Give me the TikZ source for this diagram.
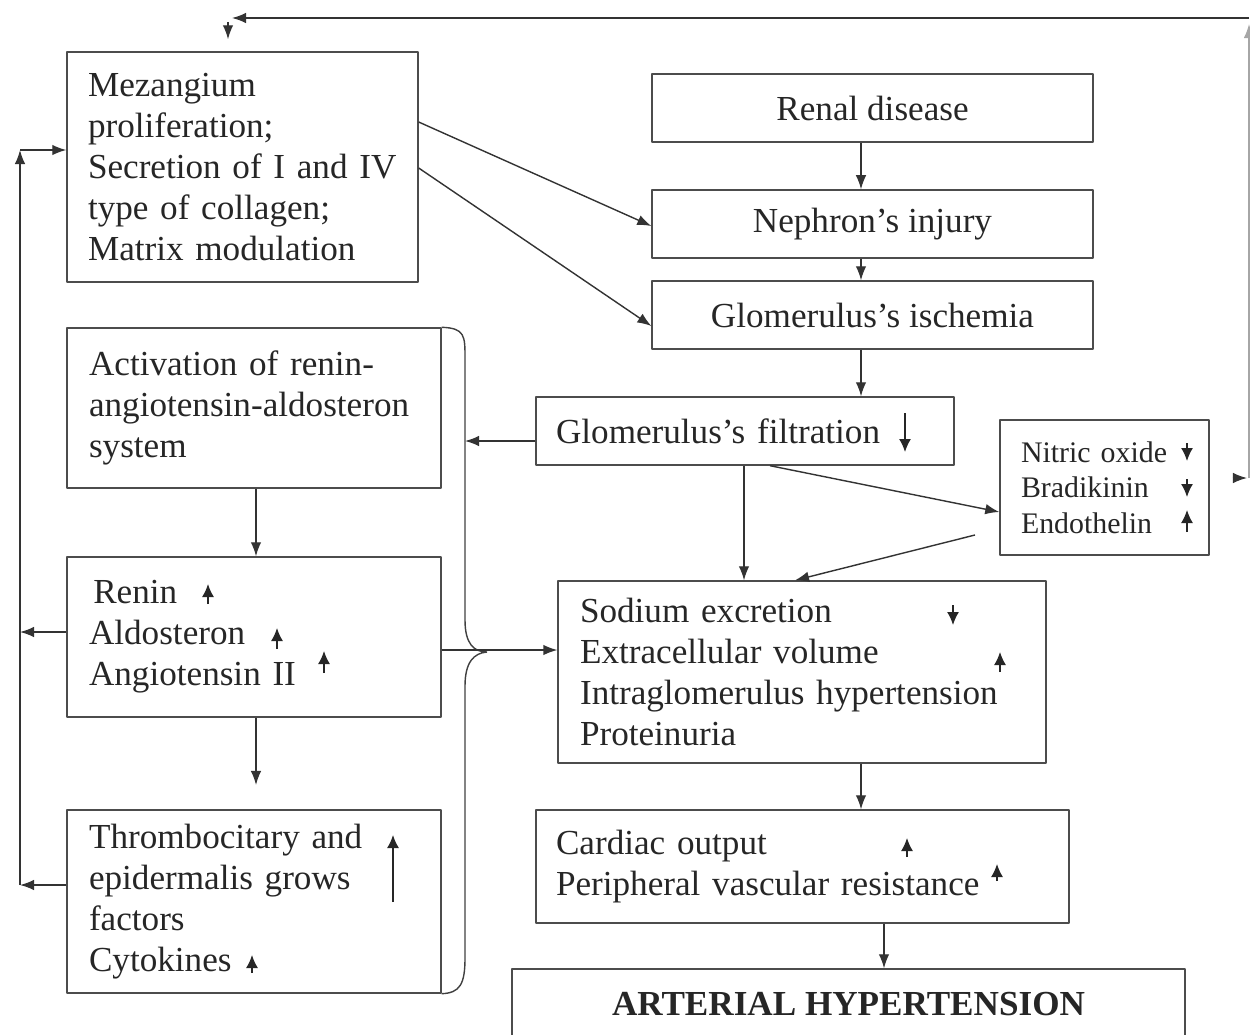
\documentclass[tikz,border=0pt]{standalone}
\usepackage{fontspec}
\setmainfont{Liberation Serif}
\usetikzlibrary{arrows.meta}
% small up/down arrows written beside the text
\newcommand{\trend}[3]{\draw [trendmark] (#1,#2) -- (#1,#3);}

\begin{document}
\begin{tikzpicture}[>={Latex[length=8pt,width=6pt]},line join=bevel,x=0.02cm,y=-0.02cm,
    box/.style={rectangle,draw=black!70,line width=0.8pt,inner xsep=0.44cm,text=black!85,
        font=\fontsize{20pt}{23.3pt}\selectfont},
    trendmark/.style={-{Latex[length=0.26cm,width=0.24cm]},line width=0.8pt,color=black!85},
    link/.style={color=black!80,line width=0.8pt,->}]
        \useasboundingbox (0,0) rectangle (1250,1034);
        \clip (0,0) rectangle (1250,1034);
        %
        \node[box,minimum width=7.02cm,minimum height=4.6cm,text width=6.38cm,inner xsep=0.32cm,align=left] (mezangium) at (242.5,167) {\hspace*{0.1cm}Mezangium\\\hspace*{0.1cm}proliferation;\\\hspace*{0.1cm}Secretion of I and IV\\\hspace*{0.1cm}type of collagen;\\\hspace*{0.1cm}Matrix modulation};
        \node[box,minimum width=7.48cm,minimum height=3.2cm,text width=6.6cm,align=left] (activation) at (254,408) {Activation of renin-\\angiotensin-aldosteron\\system};
        \node[box,minimum width=7.48cm,minimum height=3.2cm,text width=6.6cm,align=left] (renin) at (254,637) {\hspace*{3\pgflinewidth}Renin\\Aldosteron\\Angiotensin II};
        \node[box,minimum width=7.48cm,minimum height=3.66cm,text width=6.6cm,align=left] (factors) at (254,901.5) {Thrombocitary and\\epidermalis grows\\factors\\Cytokines};
        \node[box,minimum width=8.82cm,minimum height=1.36cm,align=center] (renal) at (872.5,108) {Renal disease};
        \node[box,minimum width=8.82cm,minimum height=1.36cm,align=center] (nephron) at (872.5,224) {Nephron’s injury};
        \node[box,minimum width=8.82cm,minimum height=1.36cm,align=center] (ischemia) at (872.5,315) {Glomerulus’s ischemia};
        \node[box,minimum width=8.36cm,minimum height=1.36cm,text width=7.56cm,inner xsep=0.4cm,align=left] (filtration) at (745,431) {Glomerulus’s filtration};
        \node[box,minimum width=4.18cm,minimum height=2.7cm,text width=3.34cm,inner xsep=0.42cm,align=left,
            font=\fontsize{17pt}{20.2pt}\selectfont] (mediators) at (1104.5,487.5) {Nitric oxide\\Bradikinin\\Endothelin};
        \node[box,minimum width=9.76cm,minimum height=3.64cm,text width=8.88cm,align=left] (sodium) at (802,672) {Sodium excretion\\Extracellular volume\\Intraglomerulus hypertension\\Proteinuria};
        \node[box,minimum width=10.66cm,minimum height=2.26cm,text width=9.86cm,inner xsep=0.4cm,align=left] (cardiac) at (802.5,866.5) {Cardiac output\\Peripheral vascular resistance};
        \node[box,minimum width=13.46cm,minimum height=1.4cm,align=center,font=\fontsize{20pt}{24pt}\selectfont\bfseries] (hypertension) at (848.5,1004) {ARTERIAL HYPERTENSION};
        %
        % brace gathering the three left boxes
        \draw [color=black!75,line width=0.8pt] (activation.north east) .. controls (465,328) and (465,336) .. (465,358) -- (465,620)
            .. controls (465,644) and (474,652) .. (487,652) .. controls (474,653) and (465,662) .. (465,686) -- (465,958)
            .. controls (465,984) and (460,993) .. (factors.south east);
        \coordinate (bracein) at (465,441);
        \coordinate (factin) at (256,785);
        \coordinate (medout) at (975,535);
        %
        \draw [link] (renal.south -| 861,0) to (nephron.north -| 861,0);
        \draw [link] (nephron.south -| 861,0) to (ischemia.north -| 861,0);
        \draw [link] (ischemia.south -| 861,0) to (filtration.north -| 861,0);
        \draw [link] (mezangium.east |- 0,122) to (nephron.west |- 0,226);
        \draw [link] (mezangium.east |- 0,168) to (ischemia.west |- 0,326);
        \draw [link] (filtration.west |- 0,441) to (bracein);
        \draw [link] (filtration.south -| 744,0) to (sodium.north -| 744,0);
        \draw [link] (filtration.south -| 770,0) to (mediators.west |- 0,512);
        \draw [link] (medout) to (sodium.north -| 795,0);
        \draw [link] (activation.south -| 256,0) to (renin.north -| 256,0);
        \draw [link] (renin.south -| 256,0) to (factin);
        \draw [link] (renin.east |- 0,650) to (sodium.west |- 0,650);
        \draw [link] (sodium.south -| 861,0) to (cardiac.north -| 861,0);
        \draw [link] (cardiac.south -| 884,0) to (hypertension.north -| 884,0);
        %
        % feedback on the left
        \coordinate (lefttop) at (20,150);
        \coordinate (leftbot) at (20,885);
        \draw [link] (factors.west |- leftbot) to (leftbot);
        \draw [link] (renin.west |- 0,632) to (20,632);
        \draw [link] (leftbot) to (lefttop);
        \draw [link] (lefttop) to (mezangium.west |- lefttop);
        %
        % feedback over the top
        \coordinate (rightlow) at (1249,478);
        \coordinate (righttop) at (1249,18);
        \coordinate (lefthook) at (228,18);
        \draw [link] ([xshift=0.46cm]mediators.east |- rightlow) to ([xshift=-0.04cm]rightlow);
        \draw [link,color=black!35] (rightlow) to ([yshift=-0.12cm]righttop);
        \draw [link] (righttop) to ([xshift=0.08cm]lefthook);
        \draw [link] ([yshift=-0.08cm]lefthook) to ([yshift=0.24cm]mezangium.north -| lefthook);
        %
        \trend{905}{413}{452}
        \trend{1187}{443}{461}
        \trend{1187}{479}{497}
        \trend{1187}{532}{510}
        \trend{208}{604}{584}
        \trend{277}{649}{628}
        \trend{324}{673}{651}
        \trend{393}{902}{835}
        \trend{252}{973}{955}
        \trend{953}{605}{625}
        \trend{1000}{672}{652}
        \trend{907}{857}{838}
        \trend{997}{881}{864}
        %
    \end{tikzpicture}
\end{document}
